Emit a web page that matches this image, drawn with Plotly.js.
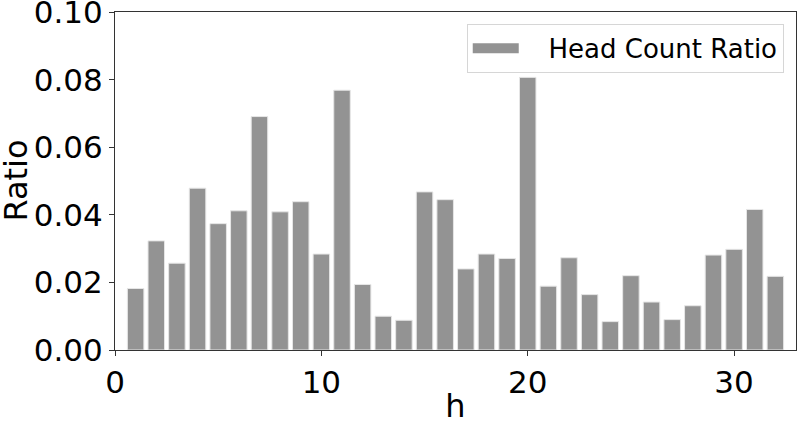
<!DOCTYPE html>
<html>
<head>
<meta charset="utf-8">
<script src="https://cdn.plot.ly/plotly-3.0.1.min.js"></script>
<style>
  html, body { margin: 0; padding: 0; background: #fff; }
  #chart { width: 797px; height: 425px; }
</style>
</head>
<body>
<div id="chart"></div>
<script>
// Head count ratio per h
const hValues = [];
for (let i = 1; i <= 32; i++) hValues.push(i);

const ratios = [
    0.0182, 0.0323, 0.0257, 0.0479, 0.0374, 0.0412, 0.0691, 0.0409,
    0.0439, 0.0284, 0.0769, 0.0194, 0.0100, 0.0088, 0.0468, 0.0445,
    0.0240, 0.0284, 0.0271, 0.0807, 0.0189, 0.0273, 0.0164, 0.0084,
    0.0220, 0.0142, 0.0090, 0.0131, 0.0281, 0.0298, 0.0416, 0.0218
];

const xTicks = [0, 10, 20, 30];
const yTicks = [0, 0.02, 0.04, 0.06, 0.08, 0.10];

const font = 'DejaVu Sans, sans-serif';
const barColor = '#939393';

const chartData = [
    {
        x: hValues,
        y: ratios,
        type: 'bar',
        name: 'Head Count Ratio',
        width: 0.8,
        showlegend: false,
        marker: {
            color: barColor,
            line: { color: '#e6e6e6', width: 1 }
        }
    },
    // legend entry only: wide patch like matplotlib's
    {
        x: [null],
        y: [null],
        type: 'scatter',
        mode: 'lines',
        name: '\u00a0\u00a0\u00a0Head Count Ratio',
        line: { color: barColor, width: 17 },
        hoverinfo: 'skip'
    }
];

const layout = {
    width: 797,
    height: 425,
    margin: { l: 114.5, r: 1, t: 12, b: 75, pad: 0 },
    paper_bgcolor: '#fff',
    plot_bgcolor: '#fff',
    font: { family: font, color: '#000', size: 31 },
    showlegend: true,
    legend: {
        x: 0.982,
        y: 0.965,
        xanchor: 'right',
        yanchor: 'top',
        itemwidth: 46,
        bgcolor: 'rgba(255,255,255,0.8)',
        bordercolor: '#d6d6d6',
        borderwidth: 1,
        font: { family: font, size: 26, color: '#000' }
    },
    xaxis: {
        range: [0, 33],
        tickvals: xTicks,
        ticktext: xTicks.map(String),
        ticks: 'outside',
        ticklen: 5,
        tickcolor: '#333',
        showline: true,
        linecolor: '#333',
        linewidth: 1,
        mirror: true,
        showgrid: false,
        zeroline: false,
        ticklabeloverflow: 'allow',
        tickfont: { size: 31 },
        title: { text: 'h', font: { size: 32 } }
    },
    yaxis: {
        range: [0, 0.10005],
        tickvals: yTicks,
        ticktext: yTicks.map(v => v.toFixed(2)),
        ticks: 'outside',
        ticklen: 5,
        tickcolor: '#333',
        showline: true,
        linecolor: '#333',
        linewidth: 1,
        mirror: true,
        showgrid: false,
        zeroline: false,
        ticklabeloverflow: 'allow',
        tickfont: { size: 31 }
    },
    // y title as annotation so it sits left of the tick labels like the original
    annotations: [
        {
            text: 'Ratio',
            textangle: -90,
            xref: 'paper',
            yref: 'paper',
            x: -0.146,
            y: 0.5,
            xanchor: 'center',
            yanchor: 'middle',
            showarrow: false,
            font: { family: font, size: 32, color: '#000' }
        }
    ]
};

Plotly.newPlot('chart', chartData, layout, { displayModeBar: false, responsive: false });
</script>
</body>
</html>
